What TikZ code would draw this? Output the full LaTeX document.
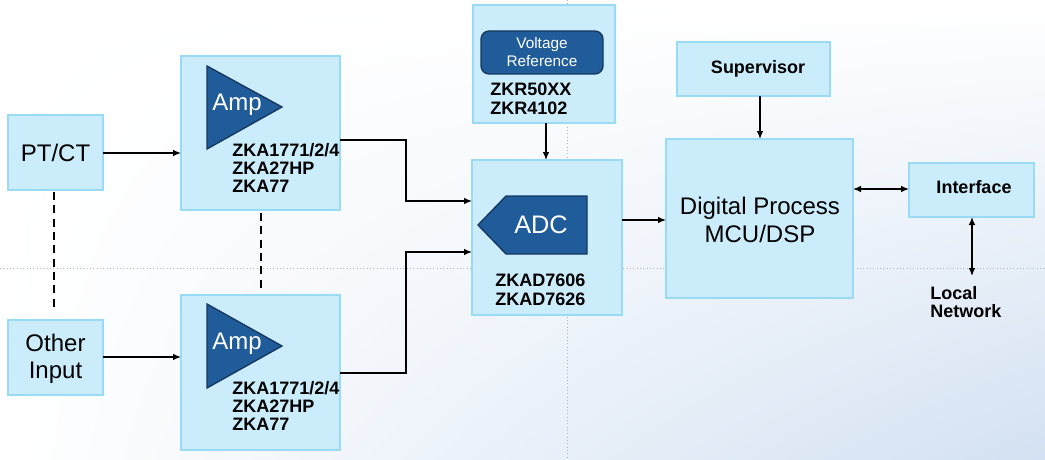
\documentclass[tikz,border=0pt]{standalone}
\usepackage{fontspec}
\setmainfont{Liberation Sans}
\usetikzlibrary{arrows.meta,shadings}
\definecolor{bfill}{HTML}{CBEDFB}
\definecolor{bdraw}{HTML}{99DBF5}
\definecolor{dblue}{HTML}{1F5C99}
\definecolor{ddraw}{HTML}{17375E}
\definecolor{bgblue}{HTML}{D3E1F2}
\begin{document}
\begin{tikzpicture}[x=0.75pt,y=-0.75pt,
  box/.style={draw=bdraw,fill=bfill,line width=1.5pt},
  dark/.style={draw=ddraw,fill=dblue,line width=1pt},
  lbl/.style={font=\bfseries\fontsize{13.5}{13.7}\selectfont,align=left,anchor=north west,inner sep=0pt},
  big/.style={font=\fontsize{18}{20.5}\selectfont,align=center},
  arr/.style={-{Latex[length=6pt,width=5pt]},line width=1pt},
  guide/.style={gray!60,dotted,line width=0.5pt}]
\useasboundingbox (0,0) rectangle (1045,460);
\shade[upper left=white,upper right=white,lower left=white,lower right=bgblue] (0,0) rectangle (1045,460);
\draw[guide] (0,268) -- (1045,268);
\draw[guide] (567,0) -- (567,460);
% boxes
\draw[box] (8,115) rectangle (103,190); \node[big] (ptct) at (55.5,152.5) {PT/CT};
\draw[box] (8,320) rectangle (103,395); \node[big] (oth) at (55.5,359) {Other\\Input};
\draw[box] (181,56) rectangle (340,210);
\draw[box] (181,295) rectangle (340,450);
\draw[box] (473,5) rectangle (615,123);
\draw[box] (472,160) rectangle (622,315);
\draw[box] (666,139) rectangle (853,298);
\draw[box] (677,42) rectangle (830,96);
\draw[box] (909,163) rectangle (1034,217);
\coordinate (a1) at (340,140); \coordinate (a2) at (340,373);
\coordinate (adcA) at (472,201); \coordinate (adcB) at (472,252);
% amps
\draw[dark] (207,66) -- (282,107) -- (207,149) -- cycle;
\node[font=\fontsize{18}{20}\selectfont,text=white] at (237,105) {Amp};
\draw[dark] (207,304) -- (282,346) -- (207,388) -- cycle;
\node[font=\fontsize{18}{20}\selectfont,text=white] at (237,344) {Amp};
\node[lbl] at (232,143) {ZKA1771/2/4\\ZKA27HP\\ZKA77};
\node[lbl] at (232,381) {ZKA1771/2/4\\ZKA27HP\\ZKA77};
% vref
\draw[dark,rounded corners=6pt] (481,31) rectangle (603,74);
\node[text=white,font=\fontsize{11.5}{13.5}\selectfont,align=center] at (542,52) {Voltage\\Reference};
\node[lbl] at (490,83) {ZKR50XX\\ZKR4102};
% adc
\draw[dark] (478,225) -- (506,196) -- (587,196) -- (587,254) -- (506,254) -- cycle;
\node[text=white,font=\fontsize{19}{22}\selectfont] at (541,225) {ADC};
\node[lbl] at (495,274) {ZKAD7606\\ZKAD7626};
\node[big] at (760,220) {Digital Process\\MCU/DSP};
\node[font=\bfseries\fontsize{13.5}{15}\selectfont] at (758,69) {Supervisor};
\node[font=\bfseries\fontsize{13.5}{15}\selectfont] at (974,187) {Interface};
\node[lbl] at (930,286) {Local\\Network};
% arrows
\draw[arr] (103,153) -- (181,153);
\draw[arr] (103,357) -- (181,357);
\draw[arr] (a1) -- (406,140) -- (406,201) -- (adcA);
\draw[arr] (a2) -- (406,373) -- (406,252) -- (adcB);
\draw[arr] (622,220) -- (666,220);
\draw[arr] (760,96) -- (760,139);
\draw[arr] (546,123) -- (546,160);
\draw[arr,{Latex[length=6pt,width=5pt]}-{Latex[length=6pt,width=5pt]}] (853,189) -- (909,189);
\draw[arr,{Latex[length=6pt,width=5pt]}-{Latex[length=6pt,width=5pt]}] (972,217) -- (972,276);
\draw[line width=1.2pt,dash pattern=on 6pt off 4pt] (54,192) -- (54,310);
\draw[line width=1.2pt,dash pattern=on 6pt off 4pt] (261,213) -- (261,292);
\end{tikzpicture}
\end{document}
